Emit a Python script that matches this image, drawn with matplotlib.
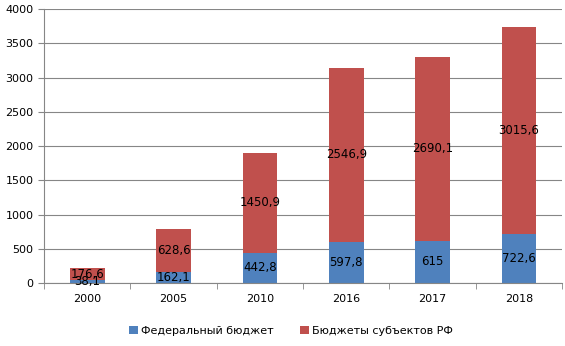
import matplotlib.pyplot as plt
import numpy as np

years = ['2000', '2005', '2010', '2016', '2017', '2018']
federal = [38.1, 162.1, 442.8, 597.8, 615, 722.6]
regions = [176.6, 628.6, 1450.9, 2546.9, 2690.1, 3015.6]
federal_labels = ['38,1', '162,1', '442,8', '597,8', '615', '722,6']
regions_labels = ['176,6', '628,6', '1450,9', '2546,9', '2690,1', '3015,6']

blue = '#4F81BD'
red = '#C0504D'

fig = plt.figure(figsize=(5.65, 3.46), dpi=100)
ax = fig.add_axes([0.078, 0.182, 0.917, 0.792])

x = np.arange(len(years))
b1 = ax.bar(x, federal, width=0.4, color=blue, label='Федеральный бюджет', zorder=2)
b2 = ax.bar(x, regions, width=0.4, bottom=federal, color=red, label='Бюджеты субъектов РФ', zorder=2)
ax.bar_label(b1, labels=federal_labels, label_type='center', fontsize=8.5)
ax.bar_label(b2, labels=regions_labels, label_type='center', fontsize=8.5)

ax.set_ylim(0, 4000)
ax.set_yticks(range(0, 4001, 500))
ax.set_xlim(-0.5, len(years) - 0.5)
ax.set_xticks(x)
ax.set_xticklabels(years)
ax.set_xticks(np.arange(-0.5, len(years), 1), minor=True)
ax.tick_params(axis='x', which='major', length=0, pad=8)
ax.tick_params(axis='x', which='minor', length=4, color='#868686')
ax.tick_params(axis='y', length=4, color='#868686')
ax.tick_params(labelsize=8)
ax.grid(axis='y', color='#868686', linewidth=0.8, zorder=0)
for s in ['top', 'right']:
    ax.spines[s].set_visible(False)
for s in ['left', 'bottom']:
    ax.spines[s].set_color('#868686')

fig.legend(loc='lower center', bbox_to_anchor=(0.515, 0.0), ncol=2, frameon=False,
           fontsize=8, handlelength=0.8, handleheight=0.8, columnspacing=2.3, handletextpad=0.3)

fig.savefig('out.png', dpi=100)
